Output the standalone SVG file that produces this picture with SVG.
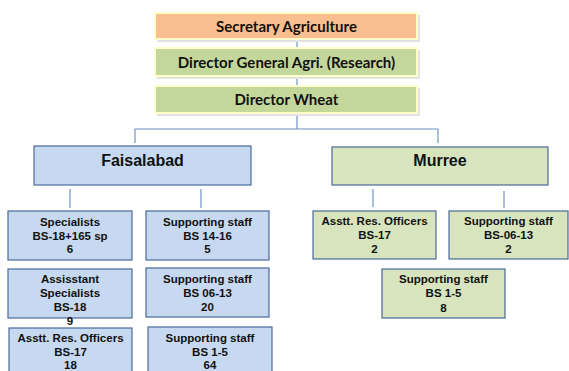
<svg xmlns="http://www.w3.org/2000/svg" width="569" height="371" viewBox="0 0 569 371">
<defs>
<style>
.top{stroke:#FFFFCC;stroke-width:2}
.shadow{fill:#E2E2E2}
.ttxt{font-family:Lato,"Liberation Sans",sans-serif;font-weight:bold;font-size:15px;fill:#111;text-anchor:middle}
.blue{fill:#C6D9F1;stroke:#4A6A98;stroke-width:1.2}
.green{fill:#D7E4BD;stroke:#4A6A98;stroke-width:1.2}
.big{font-family:"Liberation Sans",Arial,sans-serif;font-weight:bold;font-size:16px;fill:#111;text-anchor:middle}
.sm{font-family:"Liberation Sans",Arial,sans-serif;font-weight:bold;font-size:11.5px;fill:#111;text-anchor:middle}
.conn{stroke:#6F94C8;stroke-width:1.2;fill:none}
</style>
</defs>
<rect width="569" height="371" fill="#FFFFFF"/>
<g id="connectors">
<path class="conn" d="M297 39V48M297 76V86M297 113V129M135 129H438M135 129V143M438 129V143"/>
<path class="conn" d="M70 189V208M201 189V208M373 189V207M504 191V208"/>
</g>
<g id="secretary">
<rect class="shadow" x="157" y="15" width="263" height="27"/>
<rect class="top" x="155" y="13" width="262" height="26" fill="#F9BF8F"/>
<text class="ttxt" x="286.5" y="32">Secretary Agriculture</text>
</g>
<g id="dg">
<rect class="shadow" x="157" y="50" width="263" height="29"/>
<rect class="top" x="155" y="48" width="262" height="28" fill="#C4D79B"/>
<text class="ttxt" x="286.5" y="68">Director General Agri. (Research)</text>
</g>
<g id="dw">
<rect class="shadow" x="157" y="88" width="263" height="28"/>
<rect class="top" x="155" y="86" width="262" height="27" fill="#C4D79B"/>
<text class="ttxt" x="286.5" y="105">Director Wheat</text>
</g>
<g id="faisalabad">
<rect class="blue" x="34" y="146" width="217" height="39"/>
<text class="big" x="142.5" y="166">Faisalabad</text>
</g>
<g id="murree">
<rect class="green" x="332" y="147" width="216" height="38"/>
<text class="big" x="440" y="166">Murree</text>
</g>
<g id="f-specialists">
<rect class="blue" x="8" y="211" width="124" height="49"/>
<text class="sm" x="70" y="226">Specialists</text>
<text class="sm" x="70" y="239.5">BS-18+165 sp</text>
<text class="sm" x="70" y="253">6</text>
</g>
<g id="f-support-14-16">
<rect class="blue" x="146" y="211" width="123" height="49"/>
<text class="sm" x="207.5" y="226">Supporting staff</text>
<text class="sm" x="207.5" y="239.5">BS 14-16</text>
<text class="sm" x="207.5" y="253">5</text>
</g>
<g id="f-asst-specialists">
<rect class="blue" x="8" y="269" width="124" height="49"/>
<text class="sm" x="70" y="283">Assisstant</text>
<text class="sm" x="70" y="297">Specialists</text>
<text class="sm" x="70" y="311">BS-18</text>
<text class="sm" x="70" y="325">9</text>
</g>
<g id="f-support-06-13">
<rect class="blue" x="146" y="268" width="123" height="49"/>
<text class="sm" x="207.5" y="283">Supporting staff</text>
<text class="sm" x="207.5" y="297">BS 06-13</text>
<text class="sm" x="207.5" y="311">20</text>
</g>
<g id="f-aro">
<rect class="blue" x="9" y="328" width="123" height="49"/>
<text class="sm" x="70.5" y="342">Asstt. Res. Officers</text>
<text class="sm" x="70.5" y="356">BS-17</text>
<text class="sm" x="70.5" y="369">18</text>
</g>
<g id="f-support-1-5">
<rect class="blue" x="148" y="327" width="124" height="49"/>
<text class="sm" x="210" y="342">Supporting staff</text>
<text class="sm" x="210" y="356">BS 1-5</text>
<text class="sm" x="210" y="369">64</text>
</g>
<g id="m-aro">
<rect class="green" x="313" y="211" width="123" height="48"/>
<text class="sm" x="374.5" y="225">Asstt. Res. Officers</text>
<text class="sm" x="374.5" y="238.5">BS-17</text>
<text class="sm" x="374.5" y="253">2</text>
</g>
<g id="m-support-06-13">
<rect class="green" x="449" y="211" width="119" height="48"/>
<text class="sm" x="508.5" y="225">Supporting staff</text>
<text class="sm" x="508.5" y="238.5">BS-06-13</text>
<text class="sm" x="508.5" y="253">2</text>
</g>
<g id="m-support-1-5">
<rect class="green" x="382" y="269" width="123" height="49"/>
<text class="sm" x="443.5" y="283">Supporting staff</text>
<text class="sm" x="443.5" y="297">BS 1-5</text>
<text class="sm" x="443.5" y="312">8</text>
</g>
</svg>
